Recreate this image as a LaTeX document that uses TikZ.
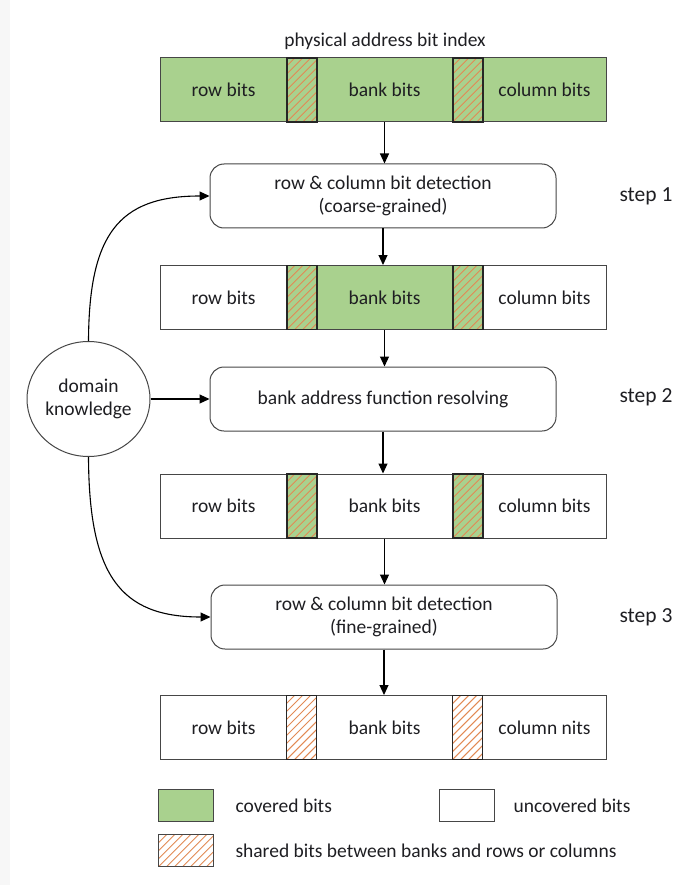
\documentclass[tikz,border=0pt]{standalone}
\usepackage{fontspec}
\setmainfont{Carlito}
\usetikzlibrary{arrows.meta,calc,shapes.geometric}
\definecolor{covgreen}{RGB}{169,209,142}
\definecolor{hatchcol}{RGB}{226,138,84}
\definecolor{segline}{RGB}{70,70,70}
\definecolor{txt}{RGB}{30,30,34}
\begin{document}
\begin{tikzpicture}[x=1pt,y=-1pt,
  font=\fontsize{19.5}{23}\selectfont, text=txt,
  seg/.style={draw=segline, line width=1pt, minimum height=64pt, inner sep=0pt, anchor=west},
  hatched/.style={path picture={
      \foreach \k in {-12,...,12}
        \draw[hatchcol, line width=0.9pt]
          ([xshift=\k*8pt]path picture bounding box.south west) ++(-90pt,-90pt) -- ++(180pt,180pt);}},
  hseg/.style={seg, hatched, draw=black!85, line width=1.6pt, minimum width=30pt},
  proc/.style={draw=segline, line width=1pt, rounded corners=14pt, minimum width=346pt,
      minimum height=64pt, align=center, fill=white, inner sep=0pt},
  arr/.style={line width=1.1pt, black, -{Triangle[length=10pt,width=9pt]}},
  steplbl/.style={anchor=west, font=\fontsize{21.5}{25}\selectfont},
  legbox/.style={draw=segline, line width=1.2pt, minimum width=55pt, minimum height=32pt, inner sep=0pt, anchor=north west}
]
\useasboundingbox (0,0) rectangle (675,885);
\fill[black!3] (0,0) rectangle (10,885);

% title
\node (title) at (385,41) {physical address bit index};

% bar 1 (all covered)
\node[seg, fill=covgreen, minimum width=126pt] (r1) at (160,90) {row bits};
\node[seg, fill=covgreen, minimum width=136pt] (b1) at (316,90) {bank bits};
\node[seg, fill=covgreen, minimum width=124pt] (c1) at (482,90) {column bits};
\node[hseg, fill=covgreen] (h1a) at (286,90) {};
\node[hseg, fill=covgreen] (h1b) at (452,90) {};

% step 1
\node[proc] (p1) at (383,196) {row \& column bit detection\\(coarse-grained)};
\node[steplbl] (s1) at (616,196) {step 1};

% bar 2
\node[seg, fill=white, minimum width=126pt] (r2) at (160,297.5) {row bits};
\node[seg, fill=covgreen, minimum width=136pt] (b2) at (316,297.5) {bank bits};
\node[seg, fill=white, minimum width=124pt] (c2) at (482,297.5) {column bits};
\node[hseg, fill=covgreen] (h2a) at (286,297.5) {};
\node[hseg, fill=covgreen] (h2b) at (452,297.5) {};

% step 2
\node[proc] (p2) at (383,399) {bank address function resolving};
\node[steplbl] (s2) at (616,397) {step 2};

% bar 3
\node[seg, fill=white, minimum width=126pt] (r3) at (160,506) {row bits};
\node[seg, fill=white, minimum width=136pt] (b3) at (316,506) {bank bits};
\node[seg, fill=white, minimum width=124pt] (c3) at (482,506) {column bits};
\node[hseg, fill=covgreen] (h3a) at (286,506) {};
\node[hseg, fill=covgreen] (h3b) at (452,506) {};

% step 3
\node[proc] (p3) at (384,617) {row \& column bit detection\\(fine-grained)};
\node[steplbl] (s3) at (616,617) {step 3};

% bar 4
\node[seg, fill=white, minimum width=126pt] (r4) at (160,727.5) {row bits};
\node[seg, fill=white, minimum width=136pt] (b4) at (316,727.5) {bank bits};
\node[seg, fill=white, minimum width=124pt] (c4) at (482,727.5) {column nits};
\node[hseg, fill=white, line width=1.2pt] (h4a) at (286,727.5) {};
\node[hseg, fill=white, line width=1.2pt] (h4b) at (452,727.5) {};

% domain knowledge
\node[draw=segline, line width=1pt, ellipse, minimum width=123pt, minimum height=115pt,
      inner sep=0pt, align=center, fill=white] (dk) at (88.5,399) {domain\\knowledge};

% vertical flow arrows
\draw[arr] (b1.south) -- (b1.south |- p1.north);
\draw[arr] (p1.south) -- (p1.south |- b2.north);
\draw[arr] (b2.south) -- (b2.south |- p2.north);
\draw[arr] (p2.south) -- (p2.south |- b3.north);
\draw[arr] (b3.south) -- (b3.south |- p3.north);
\draw[arr] (p3.south) -- (p3.south |- b4.north);

% domain knowledge arrows
\draw[arr] (dk.north) .. controls (89,235) and (118,196) .. (p1.west);
\draw[arr] (dk.east) -- (p2.west);
\draw[arr] (dk.south) .. controls (89,575) and (120,617) .. (p3.west);

% legend
\node[legbox, fill=covgreen] (lg) at (158,789) {};
\node[anchor=west] (lgt) at (232,806) {covered bits};
\node[legbox, fill=white] (lw) at (439,789) {};
\node[anchor=west] (lwt) at (510,806) {uncovered bits};
\node[legbox, fill=white, hatched] (lh) at (158,834) {};
\node[anchor=west] (lht) at (232,851) {shared bits between banks and rows or columns};
\end{tikzpicture}
\end{document}
